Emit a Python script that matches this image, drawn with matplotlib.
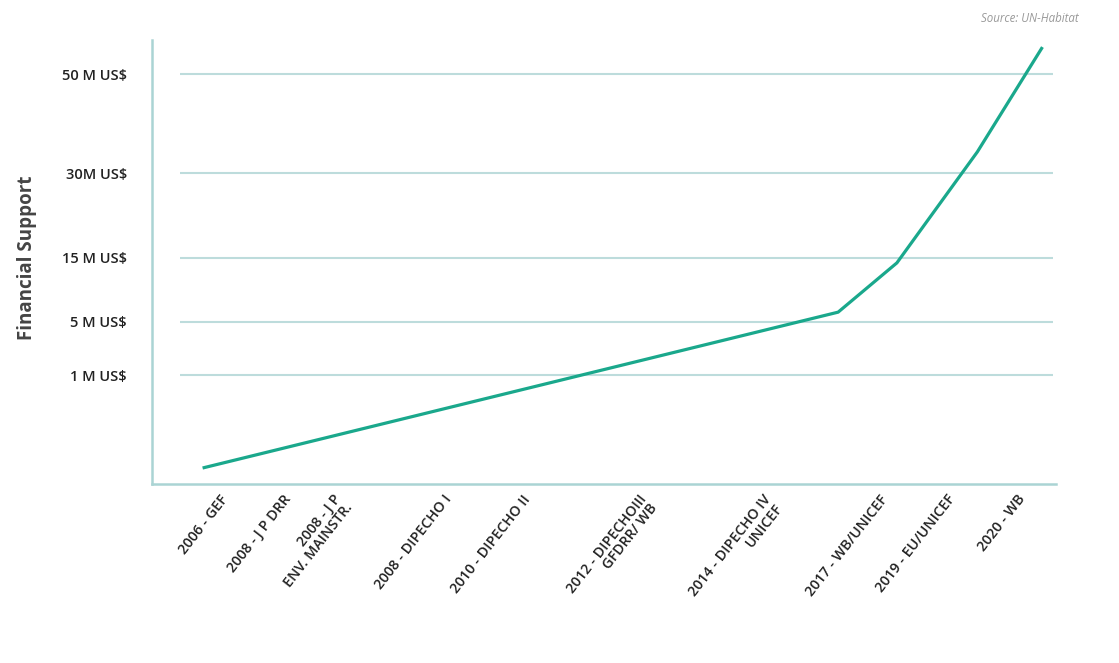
import matplotlib.pyplot as plt

# category labels on the x axis and where they sit (axis units 0-100)
labels = ["2006 - GEF", "2008 - J P DRR", "2008 - J P\nENV. MAINSTR.",
          "2008 - DIPECHO I", "2010 - DIPECHO II", "2012 - DIPECHOIII\nGFDRR/ WB",
          "2014 - DIPECHO IV\nUNICEF", "2017 - WB/UNICEF", "2019 - EU/UNICEF",
          "2020 - WB"]
label_x = [7.5, 14.5, 20.0, 32.2, 41.0, 53.8, 67.6, 80.5, 87.9, 95.7]

# y "levels" (non-linear scale as drawn in the source chart)
y_ticks = [24.5, 36.5, 50.9, 70.0, 92.3]
y_labels = ["1 M US$", "5 M US$", "15 M US$", "30M US$", "50 M US$"]

# financial support curve
line_x = [5.6, 75.9, 82.4, 91.3, 98.5]
line_y = [3.6, 38.7, 49.8, 74.8, 98.4]

teal = "#1aa88c"
pale = "#aad4d4"

plt.rcParams['font.family'] = ['Open Sans', 'DejaVu Sans']

fig = plt.figure(figsize=(11.19, 6.63), dpi=100)
ax = fig.add_axes([0.1358, 0.270, 0.8079, 0.6697])
ax.set_xlim(0, 100)
ax.set_ylim(0, 100)

ax.hlines(y_ticks, 3.1, 99.7, color="#bddcdc", lw=1.5, zorder=1)
ax.plot(line_x, line_y, color=teal, lw=2.3, zorder=3, solid_capstyle='butt')

for s in ["top", "right"]:
    ax.spines[s].set_visible(False)
for s in ["left", "bottom"]:
    ax.spines[s].set_color(pale)
    ax.spines[s].set_linewidth(1.8)

ax.set_yticks(y_ticks)
ax.set_yticklabels(y_labels, fontsize=10.5, fontweight='semibold', color="#222222")
ax.tick_params(axis='y', length=0, pad=18)

ax.set_xticks(label_x)
ax.set_xticklabels(labels, fontsize=10.3, fontweight='semibold', color="#222222",
                   rotation=52, ha='right', va='top', rotation_mode='anchor',
                   multialignment='right', linespacing=1.0)
ax.tick_params(axis='x', length=0, pad=6)

fig.text(0.024, 0.611, "Financial Support", rotation=90, ha='center', va='center',
         fontsize=13.5, fontweight='bold', color="#444444")
fig.text(0.964, 0.972, "Source: UN-Habitat", ha='right', va='center',
         fontsize=8.3, style='italic', color="#999999")

fig.savefig("out.png", dpi=100)
